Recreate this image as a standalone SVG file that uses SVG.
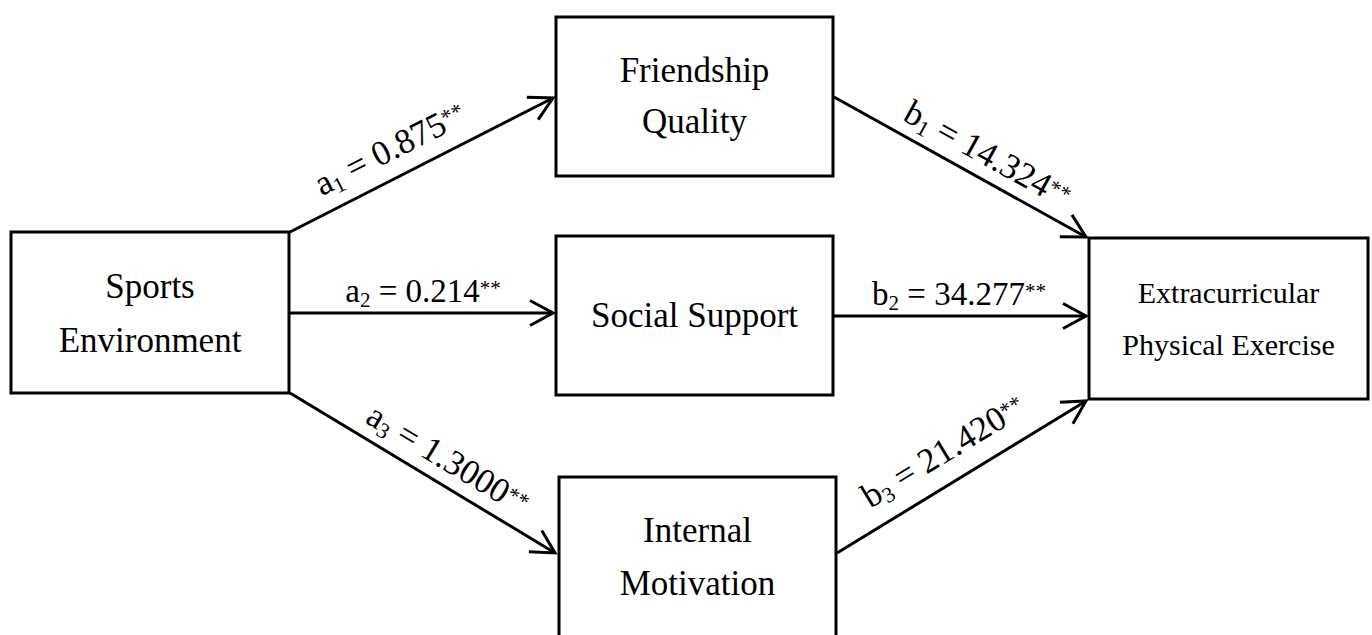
<svg xmlns="http://www.w3.org/2000/svg" width="1372" height="635" viewBox="0 0 1372 635">
<style>
.box{fill:#fff;stroke:#000;stroke-width:3}
.t{font-family:"Liberation Serif","Times New Roman",serif;fill:#000;text-anchor:middle}
.n{font-size:35px}
.s{font-size:30px}
.lbl{font-size:33px}
.rl{font-size:35px}
.edge{stroke:#000;stroke-width:3;fill:none;marker-end:url(#arr)}
</style>
<defs>
<marker id="arr" viewBox="-26 -15 30 30" markerWidth="30" markerHeight="30" refX="0" refY="0" orient="auto" markerUnits="userSpaceOnUse" overflow="visible">
<path d="M-23,-12.5 L0,0 L-23,12.5" fill="none" stroke="#000" stroke-width="3"/>
</marker>
</defs>
<rect width="1372" height="635" fill="#fff"/>
<g id="connectors">
<line class="edge" x1="290" y1="232" x2="553" y2="98"/>
<line class="edge" x1="289" y1="313" x2="553" y2="313"/>
<line class="edge" x1="290" y1="393" x2="555" y2="553"/>
<line class="edge" x1="834" y1="97" x2="1086" y2="237"/>
<line class="edge" x1="834" y1="316" x2="1086" y2="316"/>
<line class="edge" x1="837" y1="553" x2="1086" y2="401"/>
</g>
<g id="labels">
<text class="t rl" transform="translate(395,159) rotate(-26.9)">a<tspan font-size="22" dy="5">1</tspan><tspan dy="-5"> = 0.875</tspan><tspan font-size="22" dy="-7">**</tspan></text>
<text class="t lbl" x="423" y="302">a<tspan font-size="21" dy="5">2</tspan><tspan dy="-5"> = 0.214</tspan><tspan font-size="21" dy="-7">**</tspan></text>
<text class="t rl" transform="translate(442,469) rotate(31.1)">a<tspan font-size="22" dy="5">3</tspan><tspan dy="-5"> = 1.3000</tspan><tspan font-size="22" dy="-7">**</tspan></text>
<text class="t rl" transform="translate(982,164) rotate(29)">b<tspan font-size="22" dy="5">1</tspan><tspan dy="-5"> = 14.324</tspan><tspan font-size="22" dy="-7">**</tspan></text>
<text class="t lbl" x="959" y="305">b<tspan font-size="21" dy="5">2</tspan><tspan dy="-5"> = 34.277</tspan><tspan font-size="21" dy="-7">**</tspan></text>
<text class="t rl" transform="translate(949,461) rotate(-31.2)">b<tspan font-size="22" dy="5">3</tspan><tspan dy="-5"> = 21.420</tspan><tspan font-size="22" dy="-7">**</tspan></text>
</g>
<g id="sports">
<rect class="box" x="11" y="232" width="278" height="161"/>
<text class="t n" x="150" y="298">Sports</text>
<text class="t n" x="150" y="352">Environment</text>
</g>
<g id="friendship">
<rect class="box" x="556" y="17" width="277" height="159"/>
<text class="t n" x="694.5" y="82">Friendship</text>
<text class="t n" x="694.5" y="133">Quality</text>
</g>
<g id="social">
<rect class="box" x="556" y="236" width="277" height="159"/>
<text class="t n" x="694.5" y="327">Social Support</text>
</g>
<g id="internal">
<rect class="box" x="559" y="477" width="277" height="200"/>
<text class="t n" x="697.5" y="542">Internal</text>
<text class="t n" x="697.5" y="595">Motivation</text>
</g>
<g id="exercise">
<rect class="box" x="1089" y="238" width="279" height="161"/>
<text class="t s" x="1228.5" y="303">Extracurricular</text>
<text class="t s" x="1228.5" y="355">Physical Exercise</text>
</g>
</svg>
